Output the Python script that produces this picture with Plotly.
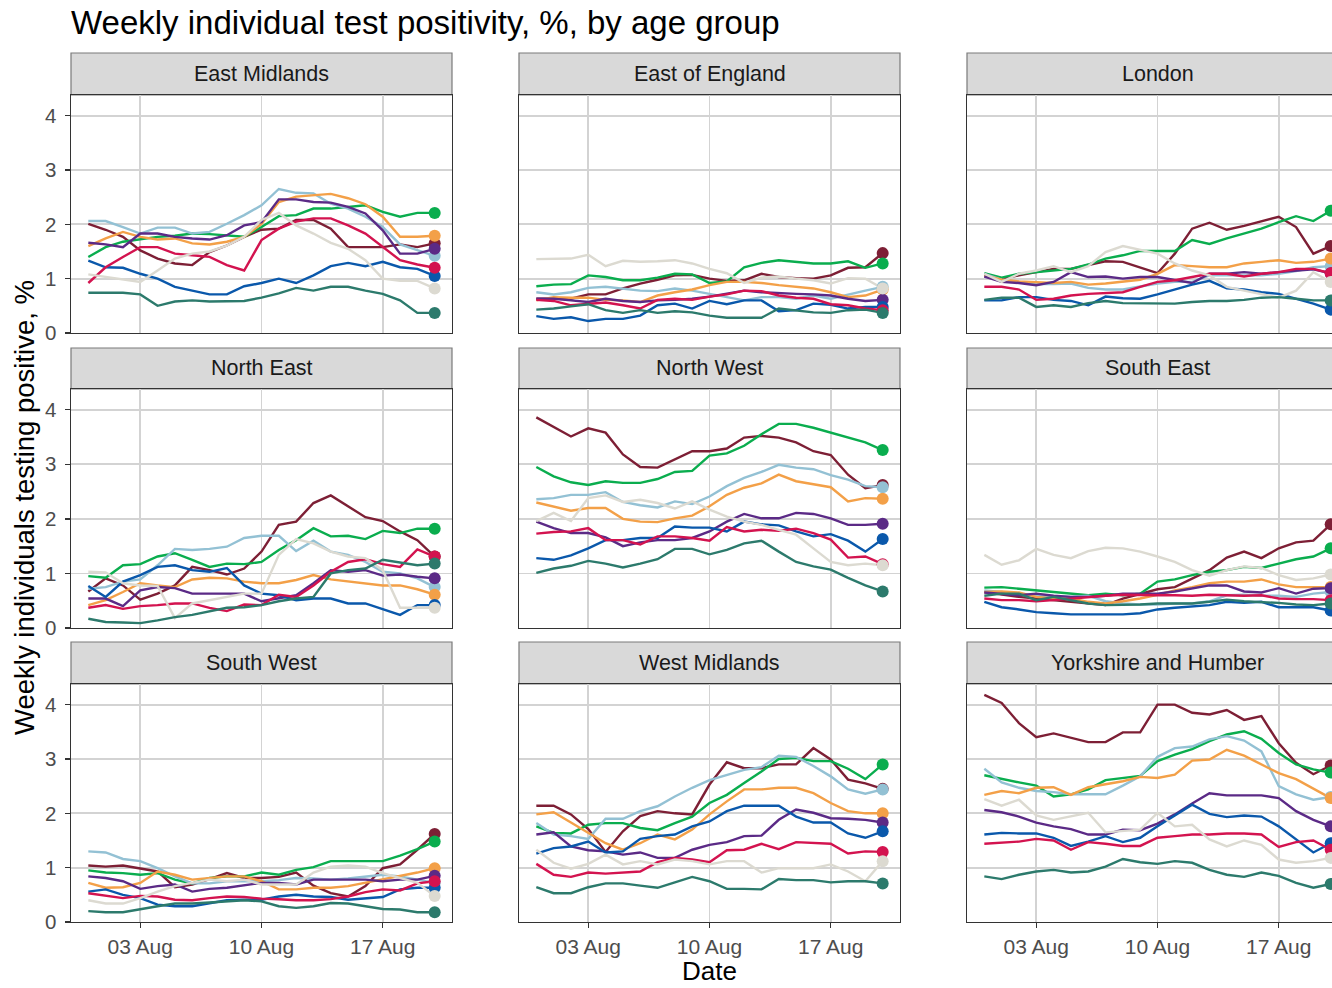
import pandas as pd
import plotly.graph_objects as go

# ---------------- data ----------------
dates = pd.date_range("2021-07-31", "2021-08-20", freq="D")
tick_vals = ["2021-08-03", "2021-08-10", "2021-08-17"]
tick_text = ["03 Aug", "10 Aug", "17 Aug"]
y_ticks = [0, 1, 2, 3, 4]

regions = ["East Midlands", "East of England", "London",
           "North East", "North West", "South East",
           "South West", "West Midlands", "Yorkshire and Humber"]

age_groups = ["Age group 1", "Age group 2", "Age group 3", "Age group 4", "Age group 5",
              "Age group 6", "Age group 7", "Age group 8", "Age group 9"]
colors = ["#7d1f35", "#0aad4e", "#93c1d4", "#f3a048", "#5b2a86",
          "#0a58ab", "#d3134f", "#dcdad1", "#2c7a6c"]

# each region: one list per age group (order as age_groups / colors)
east_midlands = [
    [2.01,1.90,1.77,1.52,1.37,1.28,1.25,1.49,1.61,1.77,1.90,1.92,2.08,2.08,1.92,1.58,1.58,1.58,1.63,1.58,1.65],
    [1.40,1.58,1.68,1.72,1.77,1.79,1.83,1.82,1.79,1.77,1.95,2.15,2.17,2.29,2.29,2.32,2.35,2.23,2.14,2.21,2.21],
    [2.06,2.06,1.95,1.83,1.94,1.94,1.83,1.86,2.01,2.17,2.35,2.65,2.58,2.57,2.38,2.29,2.14,1.95,1.63,1.53,1.42],
    [1.60,1.74,1.86,1.77,1.72,1.74,1.65,1.63,1.68,1.77,2.01,2.41,2.51,2.54,2.56,2.48,2.37,2.14,1.77,1.77,1.79],
    [1.66,1.63,1.58,1.83,1.83,1.77,1.74,1.72,1.80,1.98,2.04,2.46,2.46,2.41,2.40,2.32,2.20,1.89,1.46,1.46,1.55],
    [1.33,1.21,1.20,1.09,1.00,0.85,0.78,0.71,0.71,0.86,0.92,1.00,0.92,1.06,1.23,1.29,1.23,1.31,1.21,1.18,1.05],
    [0.92,1.21,1.40,1.58,1.58,1.46,1.43,1.40,1.25,1.15,1.71,1.92,2.05,2.11,2.11,1.98,1.83,1.58,1.34,1.26,1.20],
    [1.08,1.03,0.98,0.94,1.15,1.37,1.46,1.50,1.61,1.77,2.08,2.21,1.98,1.83,1.66,1.55,1.34,1.00,0.96,0.96,0.82],
    [0.74,0.74,0.74,0.71,0.50,0.58,0.60,0.58,0.58,0.59,0.65,0.73,0.83,0.78,0.85,0.85,0.78,0.72,0.60,0.37,0.37],
]
east_of_england = [
    [0.63,0.63,0.63,0.71,0.71,0.82,0.91,0.98,1.06,1.07,1.00,0.96,0.97,1.09,1.03,1.01,1.00,1.06,1.20,1.21,1.47],
    [0.86,0.89,0.90,1.06,1.03,0.97,0.97,1.02,1.09,1.08,0.92,0.95,1.21,1.29,1.34,1.31,1.28,1.28,1.32,1.20,1.28],
    [0.75,0.71,0.75,0.83,0.85,0.82,0.78,0.77,0.82,0.78,0.72,0.66,0.60,0.66,0.66,0.63,0.69,0.63,0.71,0.78,0.85],
    [0.60,0.66,0.65,0.65,0.61,0.60,0.57,0.69,0.75,0.80,0.88,0.94,0.94,0.92,0.88,0.85,0.82,0.75,0.66,0.69,0.80],
    [0.63,0.63,0.60,0.57,0.63,0.59,0.57,0.60,0.61,0.63,0.67,0.72,0.78,0.75,0.73,0.72,0.71,0.69,0.63,0.59,0.61],
    [0.31,0.26,0.29,0.22,0.26,0.26,0.32,0.51,0.54,0.45,0.59,0.53,0.60,0.60,0.40,0.42,0.54,0.52,0.45,0.48,0.48],
    [0.61,0.59,0.51,0.54,0.56,0.51,0.45,0.61,0.63,0.61,0.67,0.71,0.78,0.77,0.69,0.65,0.63,0.53,0.51,0.45,0.42],
    [1.36,1.36,1.37,1.44,1.23,1.33,1.31,1.32,1.34,1.28,1.18,1.10,0.92,1.02,1.04,1.00,0.97,0.91,1.01,1.00,0.82],
    [0.43,0.45,0.49,0.53,0.42,0.37,0.42,0.37,0.40,0.38,0.32,0.28,0.28,0.28,0.45,0.42,0.38,0.37,0.42,0.43,0.37],
]
london = [
    [1.06,1.00,1.06,1.12,1.18,1.18,1.25,1.32,1.31,1.20,1.10,1.46,1.92,2.03,1.90,1.97,2.06,2.14,1.95,1.46,1.60],
    [1.10,1.02,1.09,1.12,1.15,1.18,1.26,1.37,1.43,1.51,1.51,1.51,1.71,1.64,1.74,1.83,1.92,2.04,2.15,2.06,2.25],
    [1.09,0.98,0.94,0.90,0.90,0.91,0.83,0.80,0.80,0.85,0.91,0.94,0.94,1.06,1.06,1.06,1.06,1.09,1.14,1.21,1.23],
    [1.06,0.98,0.95,0.94,0.92,0.94,0.89,0.91,0.94,0.98,1.09,1.25,1.23,1.21,1.21,1.28,1.31,1.34,1.29,1.31,1.37],
    [1.04,0.94,0.92,0.88,0.94,1.12,1.03,1.04,1.00,1.03,1.03,0.98,0.92,1.09,1.09,1.12,1.09,1.12,1.15,1.17,1.10],
    [0.60,0.60,0.66,0.66,0.61,0.59,0.51,0.67,0.64,0.63,0.71,0.80,0.89,0.96,0.82,0.80,0.75,0.72,0.63,0.54,0.43],
    [0.85,0.85,0.80,0.61,0.63,0.69,0.72,0.73,0.75,0.85,0.94,0.97,1.03,1.09,1.09,1.04,1.09,1.12,1.18,1.18,1.10],
    [1.09,0.94,1.09,1.15,1.23,1.12,1.23,1.49,1.60,1.53,1.46,1.28,1.15,1.06,0.85,0.78,0.72,0.65,0.78,1.12,0.94],
    [0.61,0.65,0.65,0.48,0.51,0.48,0.55,0.59,0.55,0.55,0.54,0.54,0.57,0.59,0.59,0.61,0.65,0.66,0.63,0.60,0.60],
]
north_east = [
    [0.67,0.91,0.78,0.52,0.63,0.78,1.12,1.06,0.98,1.09,1.40,1.89,1.95,2.29,2.43,2.23,2.03,1.96,1.77,1.61,1.31],
    [0.95,0.92,1.15,1.17,1.31,1.37,1.25,1.12,1.18,1.17,1.21,1.43,1.61,1.83,1.68,1.69,1.63,1.78,1.74,1.82,1.82],
    [0.72,0.75,0.85,0.89,1.15,1.45,1.43,1.45,1.49,1.65,1.69,1.69,1.41,1.60,1.40,1.34,1.21,1.03,1.00,0.91,0.75],
    [0.42,0.51,0.66,0.82,0.78,0.75,0.89,0.92,0.91,0.85,0.82,0.82,0.88,0.97,0.89,0.85,0.82,0.78,0.78,0.71,0.61],
    [0.54,0.54,0.40,0.69,0.75,0.73,0.63,0.63,0.63,0.63,0.49,0.54,0.60,0.82,1.06,1.03,1.06,0.96,0.98,0.94,0.91],
    [0.77,0.57,0.85,0.97,1.12,1.15,1.06,1.03,1.10,0.78,0.63,0.60,0.51,0.54,0.54,0.45,0.45,0.34,0.24,0.42,0.42],
    [0.37,0.42,0.35,0.40,0.42,0.45,0.45,0.37,0.31,0.43,0.42,0.61,0.57,0.78,1.03,1.21,1.26,1.17,1.12,1.44,1.31],
    [1.03,1.02,0.82,0.78,0.77,0.18,0.45,0.51,0.57,0.63,0.63,1.34,1.63,1.55,1.40,1.31,1.28,1.06,0.37,0.37,0.37],
    [0.17,0.11,0.10,0.09,0.14,0.20,0.24,0.30,0.37,0.38,0.42,0.49,0.54,0.57,1.00,1.06,1.09,1.25,1.20,1.15,1.18],
]
north_west = [
    [3.86,3.69,3.51,3.66,3.58,3.18,2.95,2.94,3.09,3.24,3.24,3.29,3.49,3.52,3.49,3.40,3.24,3.17,2.81,2.56,2.62],
    [2.95,2.78,2.67,2.62,2.69,2.66,2.66,2.73,2.86,2.88,3.16,3.20,3.34,3.55,3.74,3.74,3.67,3.58,3.49,3.40,3.26],
    [2.36,2.38,2.44,2.44,2.49,2.31,2.25,2.21,2.32,2.27,2.41,2.60,2.75,2.86,2.99,2.94,2.91,2.80,2.72,2.60,2.58],
    [2.30,2.23,2.15,2.20,2.20,2.00,1.95,1.94,2.01,2.06,2.23,2.44,2.57,2.65,2.81,2.69,2.63,2.58,2.32,2.38,2.37],
    [1.95,1.83,1.74,1.74,1.66,1.50,1.57,1.61,1.61,1.65,1.77,1.95,2.09,2.01,2.01,2.11,2.09,2.01,1.89,1.89,1.91],
    [1.28,1.25,1.33,1.46,1.61,1.61,1.65,1.65,1.86,1.84,1.84,1.77,1.95,1.90,1.88,1.77,1.68,1.72,1.60,1.40,1.63],
    [1.73,1.76,1.77,1.83,1.61,1.61,1.53,1.68,1.68,1.65,1.60,1.85,1.77,1.80,1.78,1.82,1.74,1.62,1.29,1.31,1.17],
    [1.96,2.11,1.96,2.38,2.43,2.31,2.35,2.29,2.19,2.32,2.17,2.04,1.95,1.89,1.80,1.71,1.46,1.21,1.15,1.18,1.15],
    [1.01,1.09,1.14,1.23,1.18,1.11,1.18,1.26,1.45,1.45,1.35,1.43,1.55,1.60,1.40,1.21,1.13,1.07,0.92,0.78,0.67],
]
south_east = [
    [0.66,0.61,0.57,0.54,0.51,0.48,0.45,0.42,0.54,0.63,0.71,0.75,0.91,1.06,1.29,1.40,1.28,1.46,1.57,1.60,1.90],
    [0.74,0.75,0.72,0.69,0.67,0.63,0.60,0.63,0.60,0.63,0.85,0.89,0.97,1.03,1.06,1.12,1.10,1.18,1.26,1.31,1.46],
    [0.69,0.66,0.61,0.60,0.59,0.57,0.59,0.49,0.45,0.43,0.43,0.45,0.45,0.49,0.60,0.61,0.59,0.59,0.57,0.63,0.66],
    [0.66,0.67,0.65,0.57,0.54,0.54,0.48,0.45,0.49,0.54,0.61,0.69,0.75,0.82,0.85,0.85,0.89,0.80,0.75,0.75,0.75],
    [0.65,0.63,0.60,0.63,0.59,0.57,0.57,0.59,0.63,0.63,0.63,0.67,0.72,0.78,0.78,0.67,0.65,0.73,0.63,0.72,0.73],
    [0.48,0.38,0.34,0.29,0.27,0.25,0.25,0.25,0.25,0.27,0.34,0.37,0.39,0.42,0.48,0.46,0.48,0.38,0.38,0.38,0.32],
    [0.54,0.51,0.51,0.49,0.51,0.54,0.57,0.59,0.61,0.60,0.60,0.60,0.59,0.61,0.60,0.59,0.60,0.54,0.53,0.53,0.51],
    [1.34,1.16,1.24,1.45,1.34,1.28,1.41,1.47,1.46,1.40,1.31,1.21,1.06,0.96,1.06,1.13,1.10,0.97,0.88,0.91,0.98],
    [0.59,0.63,0.63,0.51,0.57,0.51,0.45,0.42,0.42,0.43,0.45,0.45,0.45,0.48,0.52,0.49,0.48,0.46,0.43,0.42,0.45],
]
south_west = [
    [1.04,1.02,1.04,0.99,0.93,0.64,0.69,0.79,0.90,0.81,0.81,0.83,0.91,0.67,0.53,0.47,0.66,0.99,1.06,1.33,1.62],
    [0.95,0.91,0.90,0.87,0.90,0.78,0.71,0.81,0.84,0.84,0.91,0.87,0.96,1.01,1.12,1.12,1.12,1.12,1.22,1.34,1.48],
    [1.30,1.28,1.16,1.12,0.99,0.84,0.71,0.71,0.75,0.75,0.75,0.77,0.81,0.80,0.78,0.80,0.84,0.87,0.84,0.78,0.72],
    [0.72,0.63,0.64,0.72,0.93,0.87,0.78,0.81,0.84,0.84,0.75,0.60,0.60,0.63,0.63,0.66,0.72,0.78,0.84,0.91,0.99],
    [0.84,0.81,0.75,0.61,0.66,0.69,0.56,0.61,0.63,0.67,0.72,0.72,0.69,0.78,0.78,0.79,0.78,0.75,0.78,0.78,0.85],
    [0.56,0.60,0.50,0.44,0.32,0.29,0.29,0.34,0.40,0.41,0.41,0.47,0.50,0.47,0.46,0.41,0.44,0.46,0.60,0.63,0.63],
    [0.53,0.48,0.44,0.48,0.47,0.41,0.40,0.44,0.47,0.46,0.43,0.42,0.40,0.40,0.42,0.47,0.55,0.60,0.58,0.71,0.75],
    [0.40,0.34,0.34,0.44,0.56,0.66,0.72,0.78,0.75,0.78,0.69,0.69,0.69,0.91,1.02,1.04,1.02,0.90,0.81,0.72,0.48],
    [0.20,0.18,0.18,0.24,0.29,0.34,0.34,0.36,0.38,0.40,0.38,0.29,0.26,0.29,0.35,0.34,0.29,0.24,0.23,0.18,0.18],
]
west_midlands = [
    [2.14,2.14,1.98,1.71,1.29,1.67,1.95,2.04,2.00,1.98,2.53,2.94,2.83,2.83,2.90,2.90,3.20,2.99,2.62,2.55,2.45],
    [1.76,1.64,1.63,1.79,1.82,1.82,1.73,1.69,1.82,1.94,2.19,2.34,2.56,2.77,3.00,3.02,2.96,2.96,2.82,2.63,2.90],
    [1.82,1.61,1.58,1.53,1.90,1.90,2.04,2.13,2.31,2.47,2.61,2.71,2.80,2.85,3.06,3.04,2.87,2.68,2.44,2.36,2.44],
    [1.98,2.02,1.83,1.64,1.45,1.33,1.45,1.61,1.52,1.70,1.98,2.22,2.44,2.44,2.47,2.47,2.37,2.19,2.04,2.00,2.00],
    [1.61,1.65,1.39,1.32,1.30,1.24,1.28,1.18,1.18,1.33,1.42,1.47,1.58,1.59,1.88,2.07,2.01,1.91,1.90,1.88,1.83],
    [1.26,1.36,1.39,1.48,1.28,1.30,1.53,1.58,1.61,1.76,1.85,2.04,2.14,2.14,2.14,1.94,1.83,1.83,1.63,1.55,1.67],
    [1.07,0.87,0.83,0.91,0.89,0.91,0.93,1.10,1.18,1.15,1.10,1.32,1.33,1.44,1.34,1.47,1.45,1.44,1.26,1.30,1.29],
    [1.33,1.09,0.98,1.07,1.24,1.06,1.12,1.06,1.15,1.12,1.06,1.12,1.12,0.91,0.99,0.99,0.99,1.06,0.93,0.75,1.12],
    [0.64,0.53,0.53,0.64,0.71,0.71,0.67,0.63,0.73,0.83,0.75,0.61,0.61,0.60,0.79,0.77,0.77,0.73,0.75,0.75,0.71],
]
yorkshire_humber = [
    [4.18,4.03,3.66,3.40,3.47,3.39,3.31,3.31,3.49,3.49,4.00,4.00,3.85,3.82,3.90,3.72,3.79,3.29,2.93,2.72,2.88],
    [2.70,2.63,2.57,2.51,2.31,2.35,2.44,2.61,2.65,2.69,2.96,3.08,3.18,3.33,3.45,3.51,3.37,3.11,2.90,2.81,2.75],
    [2.82,2.57,2.47,2.41,2.39,2.35,2.35,2.35,2.51,2.68,3.04,3.20,3.23,3.36,3.42,3.34,3.14,2.50,2.35,2.25,2.30],
    [2.34,2.41,2.37,2.47,2.48,2.34,2.48,2.53,2.59,2.67,2.65,2.71,2.97,2.99,3.17,3.06,2.90,2.74,2.63,2.45,2.28],
    [2.06,2.02,1.94,1.83,1.76,1.71,1.61,1.61,1.70,1.69,1.81,1.98,2.18,2.37,2.33,2.33,2.33,2.28,2.04,1.88,1.76],
    [1.61,1.64,1.63,1.63,1.55,1.40,1.48,1.58,1.47,1.55,1.76,1.96,2.16,1.99,1.93,1.96,1.94,1.76,1.52,1.28,1.45],
    [1.44,1.46,1.48,1.53,1.50,1.33,1.47,1.44,1.40,1.40,1.55,1.58,1.61,1.61,1.63,1.63,1.61,1.38,1.47,1.50,1.33],
    [2.26,2.14,2.25,1.96,1.88,1.94,2.01,1.65,1.67,1.70,2.01,1.76,1.79,1.52,1.39,1.50,1.42,1.15,1.09,1.12,1.18],
    [0.84,0.79,0.87,0.93,0.96,0.91,0.93,1.02,1.16,1.10,1.07,1.12,1.09,0.96,0.87,0.83,0.91,0.85,0.72,0.63,0.70],
]
region_values = [east_midlands, east_of_england, london, north_east, north_west,
                 south_east, south_west, west_midlands, yorkshire_humber]

# ---------------- layout geometry (pixels) ----------------
W, H = 1332, 988
col_px = [(71, 452), (519, 900), (967, 1332)]
row_px = [(95, 333), (389, 628), (684, 922)]
strip_px = [(53, 95), (348, 389), (642, 684)]
FONT = "Liberation Sans, Arial, sans-serif"
px_per_day = (452 - 71) / 22.0
x_start = pd.Timestamp("2021-07-30")
x_end_full = pd.Timestamp("2021-08-21")
x_end_cut = x_start + pd.Timedelta(days=(1332 - 967) / px_per_day)


def fx(p):
    return p / W


def fy(p):
    return 1 - p / H


fig = go.Figure()
layout = dict(
    width=W, height=H, margin=dict(l=0, r=0, t=0, b=0, pad=0, autoexpand=False),
    paper_bgcolor="white", plot_bgcolor="white", showlegend=False,
    font=dict(family=FONT, color="#4d4d4d"),
)
shapes, annotations = [], []

for k, region in enumerate(regions):
    r, c = divmod(k, 3)
    ax = "" if k == 0 else str(k + 1)
    xname, yname = "xaxis" + ax, "yaxis" + ax
    for g in range(len(age_groups)):
        vals = region_values[k][g]
        fig.add_trace(go.Scatter(
            x=dates, y=vals, mode="lines", name=age_groups[g],
            line=dict(color=colors[g], width=2.4),
            xaxis="x" + ax, yaxis="y" + ax, hoverinfo="skip"))
    for g in range(len(age_groups)):
        vals = region_values[k][g]
        fig.add_trace(go.Scatter(
            x=[dates[-1]], y=[vals[-1]], mode="markers", name=age_groups[g],
            marker=dict(color=colors[g], size=12),
            xaxis="x" + ax, yaxis="y" + ax, hoverinfo="skip"))

    bottom = r == 2
    left = c == 0
    layout[xname] = dict(
        domain=[fx(col_px[c][0]), fx(col_px[c][1])], anchor="y" + ax,
        range=[x_start, x_end_cut if c == 2 else x_end_full], type="date",
        tickvals=tick_vals, ticktext=tick_text,
        showticklabels=bottom, ticks="outside" if bottom else "",
        ticklen=5, tickwidth=1.4, tickcolor="#333333",
        tickfont=dict(size=21, color="#4d4d4d", family=FONT),
        ticklabelstandoff=0, automargin=False,
        showgrid=True, gridcolor="#d3d3d3", gridwidth=1.7,
        showline=True, linecolor="#333333", linewidth=1.4, mirror=True,
        zeroline=False, fixedrange=True)
    layout[yname] = dict(
        domain=[fy(row_px[r][1]), fy(row_px[r][0])], anchor="x" + ax,
        range=[0, 4.38], tickvals=y_ticks,
        showticklabels=left, ticks="outside" if left else "",
        ticklen=5, tickwidth=1.4, tickcolor="#333333",
        tickfont=dict(size=20.5, color="#4d4d4d", family=FONT),
        ticklabelstandoff=4, automargin=False,
        showgrid=True, gridcolor="#d3d3d3", gridwidth=1.7,
        showline=True, linecolor="#333333", linewidth=1.4,
        mirror=(c != 2), zeroline=False, fixedrange=True)

    # facet strip
    x0, x1 = col_px[c][0], (col_px[c][1] if c < 2 else 1360)
    shapes.append(dict(type="rect", xref="paper", yref="paper",
                       x0=fx(x0), x1=fx(x1), y0=fy(strip_px[r][1]), y1=fy(strip_px[r][0]),
                       fillcolor="#d9d9d9", line=dict(color="#7a7a7a", width=1.2),
                       layer="below"))
    centre = (col_px[c][0] + (col_px[c][1] if c < 2 else 1348)) / 2
    annotations.append(dict(text=region, xref="paper", yref="paper",
                            x=fx(centre), y=fy((strip_px[r][0] + strip_px[r][1]) / 2),
                            xanchor="center", yanchor="middle", showarrow=False,
                            font=dict(size=21.5, color="#1a1a1a", family=FONT)))

annotations.append(dict(text="Weekly individual test positivity, %, by age group",
                        xref="paper", yref="paper", x=fx(69), y=fy(22),
                        xanchor="left", yanchor="middle", showarrow=False,
                        font=dict(size=33, color="#000000", family=FONT)))
annotations.append(dict(text="Weekly individuals testing positive, %",
                        xref="paper", yref="paper", x=fx(25), y=fy(508),
                        xanchor="center", yanchor="middle", showarrow=False, textangle=-90,
                        font=dict(size=27.5, color="#000000", family=FONT)))
annotations.append(dict(text="Date", xref="paper", yref="paper", x=fx(709.5), y=fy(971),
                        xanchor="center", yanchor="middle", showarrow=False, borderpad=0,
                        font=dict(size=26, color="#000000", family=FONT)))

layout["shapes"] = shapes
layout["annotations"] = annotations
fig.update_layout(**layout)

fig.write_html("out.html", include_plotlyjs=True,
               config={"displayModeBar": False, "staticPlot": True},
               post_script="document.body.style.margin='0';document.body.style.overflow='hidden';")
